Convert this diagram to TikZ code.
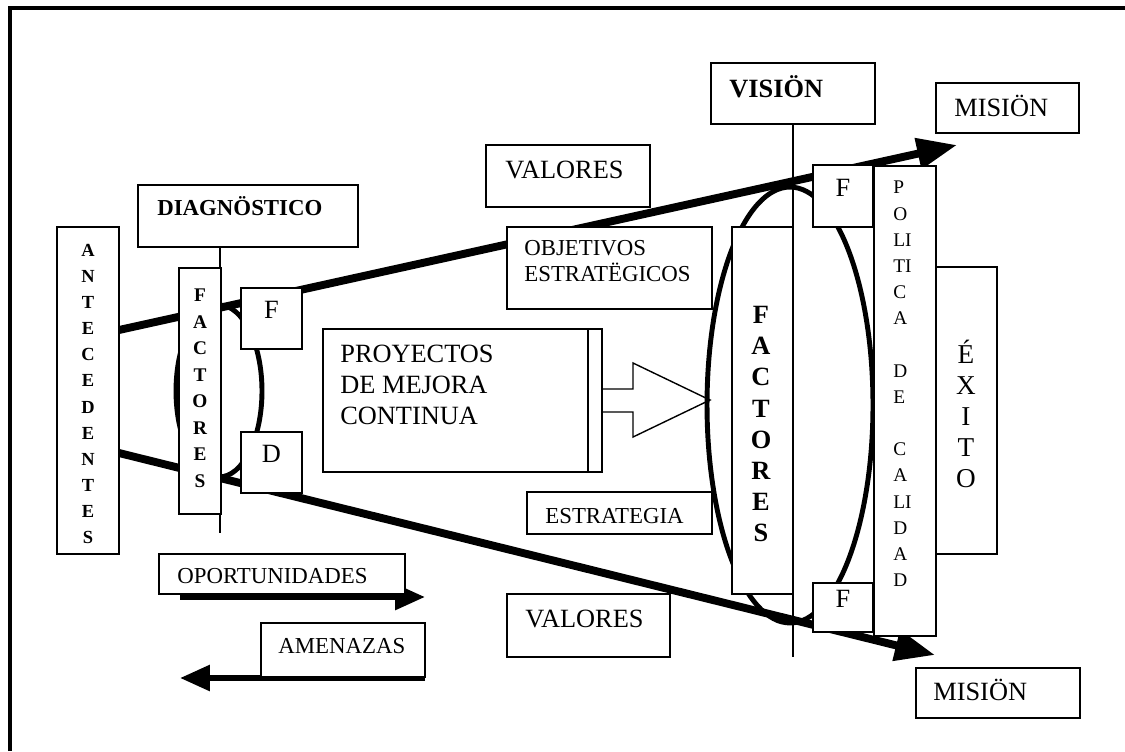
\documentclass[tikz,border=0pt]{standalone}
\usepackage{fontspec}
\setmainfont{Liberation Serif}
\usetikzlibrary{arrows.meta, positioning, fit, backgrounds}

\begin{document}
\begin{tikzpicture}[
    x=0.02cm, y=-0.02cm,
    box/.style={draw, fill=white, line width=1.1pt, inner sep=0pt},
    lbl/.style={inner sep=0pt, anchor=base west, font=\fontsize{15}{17.6}\selectfont},
    lblsmall/.style={inner sep=0pt, anchor=base west, font=\fontsize{13}{14.8}\selectfont},
    stack/.style={inner sep=0pt, align=center, anchor=south},
    letter/.style={font=\fontsize{15}{17.6}\selectfont},
    bigarrow/.style={line width=4.5pt, -{Triangle[length=0.8cm, width=0.6cm]}},
    sidearrow/.style={line width=3.4pt, -{Triangle[length=0.6cm, width=0.5cm]}},
    oval/.style={line width=2.8pt},
    guide/.style={line width=0.7pt},
    frame/.style={line width=2.3pt}
]
\useasboundingbox (0,0) rectangle (1125,751);
\draw[frame] (10,751) -- (10,8) -- (1125,8);

\node[box, fit={(57,227) (119,554)}] (ante) {};
\node[stack, font=\fontsize{10.5}{14.85}\selectfont\bfseries] (anteT) at (88,544) {A\\N\\T\\E\\C\\E\\D\\E\\N\\T\\E\\S};

\node[box, fit={(138,185) (358,247)}] (diag) {};
\node[lblsmall, font=\fontsize{13}{14.8}\selectfont\bfseries] (diagT) at (157,215) {DIAGNÖSTICO};

\node[box, fit={(179,268) (221,514)}] (facL) {};
\node[stack, font=\fontsize{11}{15.1}\selectfont\bfseries] (facLT) at (200,488) {F\\A\\C\\T\\O\\R\\E\\S};
\node[box, letter, fit={(241,288) (302,349)}] (fL) {F};
\node[box, letter, fit={(241,432) (302,493)}] (dL) {D};

\node[box, fit={(486,145) (650,207)}] (valUp) {};
\node[lbl] (valUpT) at (505,178) {VALORES};
\node[box, fit={(507,227) (712,309)}] (obj) {};
\node[inner sep=0pt, anchor=south west, align=left, font=\fontsize{13}{14.8}\selectfont] (objT) at (524,282) {OBJETIVOS\\ESTRATËGICOS};

\node[box, fit={(323,329) (588,472)}] (proy) {};
\node[box, line width=0.8pt, fit={(588,329) (602,472)}] (strip) {};
\node[inner sep=0pt, anchor=south west, align=left, font=\fontsize{15}{17.6}\selectfont] (proyT) at (340,425) {PROYECTOS\\DE MEJORA\\CONTINUA};

\node[box, fit={(527,492) (712,534)}] (estr) {};
\node[lblsmall] (estrT) at (545,523) {ESTRATEGIA};
\node[box, fit={(507,594) (670,657)}] (valDn) {};
\node[lbl] (valDnT) at (525,627) {VALORES};

\node[box, fit={(711,63) (875,124)}] (vision) {};
\node[lbl, font=\fontsize{15}{17.6}\selectfont\bfseries] (visionT) at (729,97) {VISIÖN};
\node[box, fit={(936,83) (1079,133)}] (misUp) {};
\node[lbl] (misUpT) at (954,116) {MISIÖN};
\node[box, fit={(916,668) (1080,718)}] (misDn) {};
\node[lbl] (misDnT) at (933,700) {MISIÖN};

\node[box, fit={(732,227) (793,594)}] (facR) {};
\node[stack, font=\fontsize{15}{17.7}\selectfont\bfseries] (facRT) at (761,542) {F\\A\\C\\T\\O\\R\\E\\S};
\node[box, letter, fit={(813,165) (873,227)}] (fUp) {F};
\node[box, letter, fit={(813,583) (873,632)}] (fDn) {F};

\node[box, fit={(874,166) (936,636)}] (pol) {};
\node[inner sep=0pt, anchor=south west, align=left, font=\fontsize{11}{14.9}\selectfont] (polT) at (893,587)
    {P\\O\\LI\\TI\\C\\A\\[14.9pt]D\\E\\[14.9pt]C\\A\\LI\\D\\A\\D};
\node[box, fit={(936,267) (997,554)}] (exito) {};
\node[stack, font=\fontsize{15.5}{17.6}\selectfont] (exitoT) at (966,488) {É\\X\\I\\T\\O};

\node[box, fit={(159,554) (405,594)}] (opor) {};
\node[lblsmall] (oporT) at (177,583) {OPORTUNIDADES};
\node[box, fit={(261,623) (425,677)}] (amen) {};
\node[lblsmall] (amenT) at (278,653) {AMENAZAS};

\coordinate (upStart) at (119,330);
\coordinate (upTip) at (957,145);
\coordinate (loStart) at (119,453);
\coordinate (loTip) at (935,655);
\coordinate (diagEnd) at (220,533);
\coordinate (visEnd) at (793,657);
\coordinate (oporStart) at (180,597);
\coordinate (oporTip) at (425,597);
\coordinate (amenStart) at (425,678);
\coordinate (amenTip) at (180,678);

\begin{scope}[on background layer]
\draw[oval] (219,391) ellipse [x radius=0.86cm, y radius=1.72cm];
\draw[oval] (790,405) ellipse [x radius=1.66cm, y radius=4.36cm];
\draw[bigarrow] (upStart) -- (upTip);
\draw[bigarrow] (loStart) -- (loTip);
\draw[guide] (diag.south -| diagEnd) -- (diagEnd);
\draw[guide] (vision.south -| visEnd) -- (visEnd);
\draw[sidearrow] (oporStart) -- (oporTip);
\draw[sidearrow] (amenStart) -- (amenTip);
\end{scope}

\draw[line width=0.8pt, line join=miter] (strip.east |- 0,389) -- (633,389) -- (633,363) -- (710,400)
    -- (633,437) -- (633,412) -- (strip.east |- 0,412);
\end{tikzpicture}
\end{document}
